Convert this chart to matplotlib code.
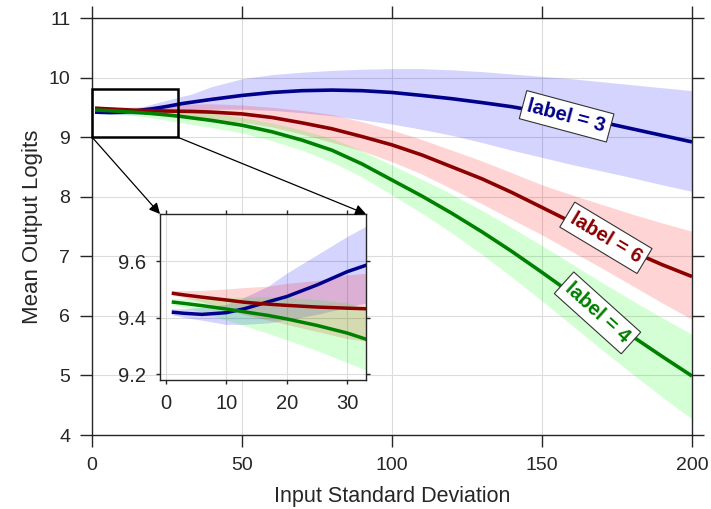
import matplotlib
matplotlib.use('Agg')
import matplotlib.pyplot as plt
from matplotlib.patches import Rectangle

plt.rcParams['font.family'] = ['Liberation Sans', 'DejaVu Sans']

# input standard deviation (x samples)
sd = [1, 3, 6, 10, 13, 17, 20, 25, 30, 33, 40, 50, 60, 70, 80, 90, 100,
      110, 120, 130, 140, 150, 160, 170, 180, 190, 200]

# label = 3
blue_mean = [9.420, 9.416, 9.412, 9.418, 9.432, 9.457, 9.475, 9.516, 9.563, 9.585,
             9.635, 9.70, 9.75, 9.78, 9.79, 9.78, 9.75, 9.70, 9.645, 9.58,
             9.51, 9.42, 9.33, 9.25, 9.14, 9.03, 8.92]
blue_hi = [9.43, 9.43, 9.435, 9.445, 9.47, 9.51, 9.555, 9.62, 9.685, 9.72,
           9.85, 9.98, 10.05, 10.09, 10.12, 10.14, 10.15, 10.15, 10.13, 10.10,
           10.06, 10.02, 9.98, 9.93, 9.88, 9.83, 9.78]
blue_lo = [9.41, 9.40, 9.39, 9.375, 9.375, 9.38, 9.39, 9.41, 9.435, 9.45,
           9.47, 9.47, 9.45, 9.41, 9.36, 9.29, 9.22, 9.13, 9.03, 8.91,
           8.78, 8.66, 8.54, 8.43, 8.32, 8.20, 8.09]

# label = 6
red_mean = [9.487, 9.481, 9.473, 9.463, 9.455, 9.448, 9.444, 9.438, 9.434, 9.432,
            9.42, 9.39, 9.33, 9.24, 9.14, 9.01, 8.87, 8.70, 8.50, 8.30,
            8.07, 7.82, 7.57, 7.32, 7.08, 6.86, 6.66]
red_hi = [9.495, 9.495, 9.495, 9.50, 9.505, 9.51, 9.52, 9.53, 9.55, 9.555,
          9.56, 9.54, 9.50, 9.45, 9.38, 9.26, 9.12, 8.96, 8.78, 8.60,
          8.40, 8.20, 8.03, 7.87, 7.71, 7.56, 7.42]
red_lo = [9.48, 9.47, 9.455, 9.43, 9.41, 9.39, 9.375, 9.35, 9.325, 9.316,
          9.29, 9.25, 9.17, 9.05, 8.91, 8.77, 8.59, 8.38, 8.13, 7.88,
          7.62, 7.36, 7.08, 6.80, 6.51, 6.22, 5.94]

# label = 4
green_mean = [9.456, 9.451, 9.443, 9.431, 9.421, 9.408, 9.396, 9.373, 9.346, 9.325,
              9.28, 9.20, 9.09, 8.95, 8.78, 8.55, 8.28, 8.01, 7.72, 7.41,
              7.08, 6.73, 6.37, 6.01, 5.66, 5.32, 4.99]
green_hi = [9.466, 9.466, 9.468, 9.471, 9.471, 9.473, 9.471, 9.463, 9.451, 9.435,
            9.40, 9.33, 9.24, 9.12, 8.98, 8.77, 8.53, 8.29, 8.04, 7.77,
            7.48, 7.18, 6.87, 6.56, 6.26, 5.97, 5.69]
green_lo = [9.446, 9.436, 9.418, 9.391, 9.371, 9.343, 9.321, 9.283, 9.241, 9.215,
            9.16, 9.07, 8.94, 8.78, 8.58, 8.33, 8.03, 7.72, 7.39, 7.03,
            6.65, 6.25, 5.84, 5.43, 5.03, 4.64, 4.27]

series = [
    ('label = 3', blue_mean, blue_lo, blue_hi, '#00008B', 'blue'),
    ('label = 6', red_mean, red_lo, red_hi, '#8B0000', 'red'),
    ('label = 4', green_mean, green_lo, green_hi, '#008000', 'lime'),
]

# text positions for the inline labels (x, y, angle)
label_pos = {'label = 3': (158.2, 9.35, -15),
             'label = 6': (171.3, 7.31, -31),
             'label = 4': (168.5, 6.05, -42)}

txt = '#262626'


def draw_curves(a, lw):
    for name, m, lo, hi, c, fc in series:
        a.fill_between(sd, lo, hi, color=fc, alpha=0.17, lw=0)
    for name, m, lo, hi, c, fc in series:
        a.plot(sd, m, color=c, lw=lw, solid_capstyle='butt')


def style(a, ticklen, size):
    a.grid(True, color='#dcdcdc', lw=0.8)
    a.set_axisbelow(True)
    a.tick_params(direction='out', length=ticklen, width=1.0, colors=txt,
                  labelsize=size, top=True, right=True, pad=7)
    for s in a.spines.values():
        s.set_color(txt)
        s.set_linewidth(1.0)


fig = plt.figure(figsize=(7.11, 5.09), dpi=100)
ax = fig.add_axes([92 / 711, 1 - 435 / 509, 600 / 711, 417 / 509])
draw_curves(ax, 2.6)
ax.set_xlim(0, 200)
ax.set_ylim(4, 11)
ax.set_xticks([0, 50, 100, 150, 200])
ax.set_yticks(range(4, 12))
style(ax, 8.6, 14)
ax.set_xlabel('Input Standard Deviation', fontsize=15.5, color=txt, labelpad=9)
ax.set_ylabel('Mean Output Logits', fontsize=16, color=txt, labelpad=4)

for name, m, lo, hi, c, fc in series:
    x, y, rot = label_pos[name]
    ax.text(x, y, name, color=c, fontsize=14.5, fontweight='bold', rotation=rot,
            ha='center', va='center', rotation_mode='anchor', zorder=5,
            bbox=dict(boxstyle='square,pad=0.25', fc='white', ec='#333333', lw=0.8))

# zoom rectangle
ax.add_patch(Rectangle((0, 9.0), 28.5, 0.8, fill=False, ec='black', lw=1.8,
                       zorder=6, clip_on=False))

# inset
axins = fig.add_axes([160 / 711, 1 - 380 / 509, 206 / 711, 166 / 509])
draw_curves(axins, 2.5)
axins.set_xlim(-0.94, 33.1)
axins.set_ylim(9.18, 9.767)
axins.set_xticks([0, 10, 20, 30])
axins.set_yticks([9.2, 9.4, 9.6])
style(axins, 3.0, 14.5)

for xa, xb in [((0, 9.0), (0, 1)), ((28.5, 9.0), (1, 1))]:
    axins.annotate('', xy=xb, xycoords='axes fraction', xytext=xa,
                   textcoords=ax.transData,
                   arrowprops=dict(arrowstyle='-|>', color='black', lw=0.9,
                                   mutation_scale=16, shrinkA=0, shrinkB=0),
                   annotation_clip=False)

fig.savefig('out.png', dpi=100)
